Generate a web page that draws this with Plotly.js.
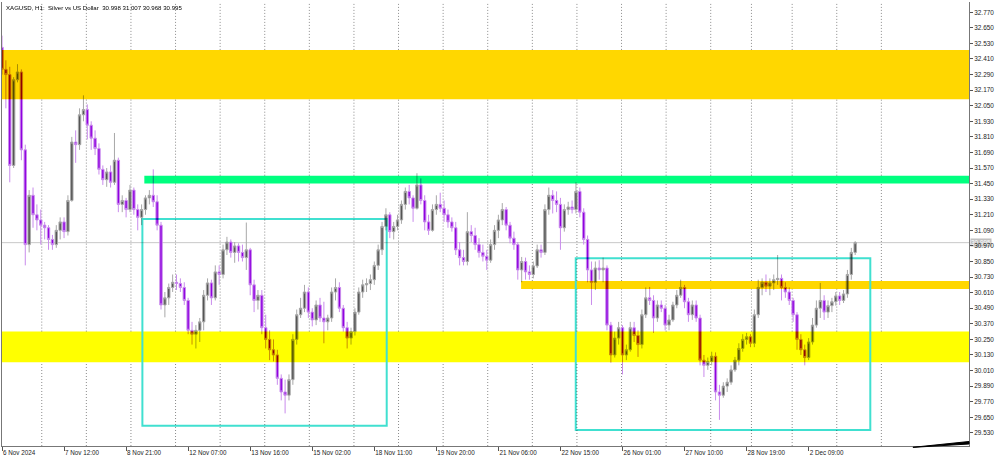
<!DOCTYPE html>
<html>
<head>
<meta charset="utf-8">
<script src="https://cdn.plot.ly/plotly-3.0.1.min.js"></script>
<style>
  html, body { margin: 0; padding: 0; background: #ffffff; }
  #chart { width: 1000px; height: 460px; }
  #chart .svg-container > svg.main-svg:nth-of-type(2) { mix-blend-mode: multiply; }
</style>
</head>
<body>
<div id="chart"></div>
<script>
// ---- XAGUSD H1 candles (each candle = 2 hourly bars) ----
const open = [32.50,32.33,32.29,31.59,32.25,32.31,31.71,30.98,31.36,31.21,
31.17,31.13,31.11,31.02,30.98,31.09,31.155,31.08,31.32,31.77,
31.75,31.98,32.02,31.90,31.80,31.72,31.56,31.48,31.54,31.46,
31.63,31.29,31.32,31.25,31.40,31.25,31.19,31.25,31.34,31.36,
31.31,31.13,30.515,30.57,30.65,30.69,30.68,30.65,30.55,30.32,
30.29,30.32,30.385,30.59,30.685,30.57,30.77,30.75,30.94,31.00,
30.92,30.97,30.92,30.88,30.94,30.67,30.55,30.59,30.34,30.25,
30.17,30.13,29.95,29.845,29.82,29.94,30.25,30.44,30.49,30.615,
30.46,30.40,30.515,30.415,30.385,30.415,30.615,30.65,30.49,30.34,
30.26,30.31,30.46,30.615,30.67,30.68,30.71,30.82,30.94,31.12,
31.21,31.08,31.12,31.17,31.29,31.39,31.34,31.26,31.44,31.32,
31.155,31.09,31.25,31.29,31.26,31.21,31.155,31.11,30.94,30.88,
30.85,31.08,31.05,30.98,30.92,30.89,30.86,30.98,31.09,31.17,
31.25,31.13,31.03,30.98,30.785,30.85,30.77,30.75,30.816,30.94,
30.92,31.25,31.36,31.32,31.29,31.11,31.25,31.27,31.25,31.39,
31.23,31.02,30.785,30.69,30.80,30.785,30.80,30.36,30.13,30.26,
30.34,30.13,30.17,30.34,30.28,30.21,30.44,30.57,30.55,30.415,
30.515,30.49,30.36,30.40,30.515,30.59,30.65,30.54,30.44,30.515,
30.415,30.09,30.05,30.08,30.12,29.845,29.82,29.89,29.92,30.015,
30.09,30.18,30.25,30.27,30.22,30.44,30.65,30.69,30.66,30.685,
30.71,30.72,30.65,30.615,30.55,30.44,30.25,30.17,30.11,30.23,
30.36,30.49,30.55,30.46,30.51,30.54,30.585,30.55,30.60,30.75,
30.92];
const high = [32.59,32.40,32.35,32.27,32.37,32.33,31.75,31.40,31.42,31.29,
31.25,31.155,31.13,31.055,31.13,31.19,31.19,31.36,31.81,31.86,
32.03,32.13,32.06,31.93,31.86,31.76,31.59,31.57,31.59,31.84,
31.65,31.36,31.34,31.44,31.42,31.29,31.29,31.36,31.40,31.56,
31.36,31.155,30.615,30.68,30.75,30.75,30.72,30.69,30.57,30.385,
30.36,30.415,30.63,30.72,30.71,30.82,30.82,30.98,31.04,31.02,
31.00,30.99,30.98,31.15,30.955,30.71,30.63,30.63,30.44,30.32,
30.25,30.17,29.98,29.94,29.98,30.29,30.48,30.57,30.67,30.65,
30.49,30.55,30.57,30.54,30.44,30.65,30.72,30.69,30.515,30.385,
30.34,30.49,30.65,30.71,30.72,30.75,30.85,30.98,31.155,31.26,
31.23,31.155,31.21,31.32,31.42,31.44,31.36,31.53,31.49,31.36,
31.21,31.29,31.36,31.38,31.32,31.25,31.19,31.155,31.00,30.94,
31.23,31.13,31.11,31.03,30.98,30.94,31.02,31.13,31.21,31.30,
31.27,31.155,31.08,31.00,30.885,30.88,30.82,30.85,30.98,30.98,
31.29,31.42,31.40,31.39,31.34,31.29,31.31,31.32,31.46,31.42,
31.26,31.05,30.85,30.85,30.86,30.88,30.82,30.385,30.31,30.385,
30.36,30.21,30.385,30.385,30.32,30.48,30.65,30.654,30.59,30.55,
30.55,30.515,30.44,30.54,30.63,30.71,30.67,30.57,30.55,30.55,
30.44,30.13,30.11,30.155,30.15,29.90,29.92,29.95,30.05,30.115,
30.22,30.29,30.30,30.29,30.48,30.71,30.72,30.75,30.72,30.75,
30.90,30.75,30.69,30.65,30.57,30.46,30.29,30.21,30.26,30.415,
30.55,30.685,30.59,30.55,30.57,30.615,30.615,30.63,30.785,30.955,
31.007];
const low = [32.29,32.03,31.46,31.57,32.23,31.63,30.82,30.92,31.11,31.09,
30.98,31.02,30.94,30.94,30.955,31.02,31.03,31.05,31.31,31.61,
31.71,31.93,31.79,31.71,31.67,31.52,31.44,31.425,31.42,31.44,
31.23,31.23,31.19,31.23,31.21,31.09,31.13,31.21,31.29,31.27,
31.09,30.48,30.42,30.515,30.615,30.63,30.615,30.515,30.29,30.21,
30.18,30.23,30.32,30.55,30.515,30.55,30.67,30.72,30.90,30.88,
30.84,30.85,30.85,30.785,30.59,30.46,30.48,30.29,30.18,30.09,
30.08,29.90,29.78,29.68,29.78,29.90,30.21,30.415,30.46,30.415,
30.35,30.36,30.385,30.22,30.32,30.385,30.55,30.46,30.31,30.18,
30.21,30.28,30.44,30.57,30.615,30.63,30.67,30.785,30.90,31.09,
31.03,31.02,31.09,31.14,31.25,31.29,31.155,31.25,31.29,31.09,
31.055,31.08,31.21,31.23,31.155,31.11,31.08,30.90,30.82,30.82,
30.82,31.00,30.94,30.88,30.85,30.785,30.84,30.94,31.03,31.13,
31.09,30.99,30.94,30.71,30.69,30.71,30.71,30.72,30.80,30.88,
30.90,31.21,31.22,31.23,30.94,31.08,31.21,31.22,31.22,31.19,
30.98,30.69,30.515,30.63,30.71,30.69,30.32,30.07,30.11,30.21,
29.98,30.09,30.155,30.23,30.115,30.18,30.415,30.515,30.30,30.385,
30.46,30.32,30.32,30.385,30.49,30.57,30.49,30.385,30.40,30.385,
30.05,29.96,30.015,30.05,29.78,29.63,29.80,29.845,29.90,30.00,
30.05,30.155,30.21,30.19,30.19,30.415,30.59,30.615,30.59,30.63,
30.67,30.55,30.57,30.515,30.385,30.17,30.13,30.05,30.09,30.21,
30.34,30.415,30.40,30.415,30.46,30.51,30.515,30.53,30.57,30.71,
30.90];
const close = [32.33,32.29,31.59,32.25,32.31,31.71,30.98,31.36,31.21,31.17,
31.13,31.11,31.02,30.98,31.09,31.155,31.08,31.32,31.77,31.75,
31.98,32.02,31.90,31.80,31.72,31.56,31.48,31.54,31.46,31.63,
31.29,31.32,31.25,31.40,31.25,31.19,31.25,31.34,31.36,31.31,
31.13,30.515,30.57,30.65,30.69,30.68,30.65,30.55,30.32,30.29,
30.32,30.385,30.59,30.685,30.57,30.77,30.75,30.94,31.00,30.92,
30.97,30.92,30.88,30.94,30.67,30.55,30.59,30.34,30.25,30.17,
30.13,29.95,29.845,29.82,29.94,30.25,30.44,30.49,30.615,30.46,
30.40,30.515,30.415,30.385,30.415,30.615,30.65,30.49,30.34,30.26,
30.31,30.46,30.615,30.67,30.68,30.71,30.82,30.94,31.12,31.21,
31.08,31.12,31.17,31.29,31.39,31.34,31.26,31.44,31.32,31.155,
31.09,31.25,31.29,31.26,31.21,31.155,31.11,30.94,30.88,30.85,
31.08,31.05,30.98,30.92,30.89,30.86,30.98,31.09,31.17,31.25,
31.13,31.03,30.98,30.785,30.85,30.77,30.75,30.816,30.94,30.92,
31.25,31.36,31.32,31.29,31.11,31.25,31.27,31.25,31.39,31.23,
31.02,30.785,30.69,30.80,30.785,30.80,30.36,30.13,30.26,30.34,
30.13,30.17,30.34,30.28,30.21,30.44,30.57,30.55,30.415,30.515,
30.49,30.36,30.40,30.515,30.59,30.65,30.54,30.44,30.515,30.415,
30.09,30.05,30.08,30.12,29.845,29.82,29.89,29.92,30.015,30.09,
30.18,30.25,30.27,30.22,30.44,30.65,30.69,30.66,30.685,30.71,
30.72,30.65,30.615,30.55,30.44,30.25,30.17,30.11,30.23,30.36,
30.49,30.55,30.46,30.51,30.54,30.585,30.55,30.60,30.75,30.92,
30.995];

// x-axis labels (bar index of each label) and day separators
const tickBars = [0,32,64,96,128,160,192,224,256,288,320,352,384,416];
const tickLabels = ['6 Nov 2024','7 Nov 12:00','8 Nov 21:00','12 Nov 07:00','13 Nov 16:00',
  '15 Nov 02:00','18 Nov 11:00','19 Nov 20:00','21 Nov 06:00','22 Nov 15:00',
  '26 Nov 01:00','27 Nov 10:00','28 Nov 19:00','2 Dec 09:00'];
const daySeps = [20.5,43.5,66.5,89.5,112.5,135.5,158.5,181.5,204.5,227.5,
  250.5,273.5,296.5,319.5,342.5,365.5,386.5,407.5,430.5,453.5];

// price axis labels
const priceTicks = [29.53,29.65,29.77,29.89,30.01,30.13,30.25,30.37,30.49,30.61,30.73,30.85,30.97,
  31.09,31.21,31.33,31.45,31.57,31.69,31.81,31.93,32.05,32.17,32.29,32.41,32.53,32.65,32.77];
const priceLabels = priceTicks.map(v => v.toFixed(3));

// zones drawn on chart: [lowPrice, highPrice]
const goldTop = [32.10, 32.48];
const greenZone = [31.45, 31.511];
const goldMid = [30.639, 30.70];
const yellowZone = [30.074, 30.310];
const box1 = {x0: 72.4, x1: 198.4, y0: 29.585, y1: 31.178};
const box2 = {x0: 295.9, x1: 447.8, y0: 29.552, y1: 30.875};
const greenStart = 73.4, goldMidStart = 267.7;
const bid = 30.995;
const quote = {o: 30.998, h: 31.007, l: 30.968, c: 30.995};

const xRange = [0, 498.7];
const yRange = [29.4287, 32.849];

const bars = close.map((_, i) => 2 * i);

const trace = {
  type: 'candlestick',
  x: bars, open: open, high: high, low: low, close: close,
  increasing: {line: {color: '#a8a8a8', width: 1}, fillcolor: '#555555'},
  decreasing: {line: {color: '#c98cec', width: 1}, fillcolor: '#9000e0'},
  whiskerwidth: 0,
  hoverinfo: 'skip',
  showlegend: false
};

const shapes = [];
// bands (drawn in the top layer, multiply-blended over the candles)
shapes.push({type: 'rect', layer: 'above', xref: 'paper', x0: 0, x1: 1, yref: 'y', y0: goldTop[0], y1: goldTop[1], fillcolor: '#ffd700', line: {width: 0}});
shapes.push({type: 'rect', layer: 'above', xref: 'x', x0: greenStart, x1: xRange[1], yref: 'y', y0: greenZone[0], y1: greenZone[1], fillcolor: '#00ff7f', line: {width: 0}});
shapes.push({type: 'rect', layer: 'above', xref: 'x', x0: goldMidStart, x1: xRange[1], yref: 'y', y0: goldMid[0], y1: goldMid[1], fillcolor: '#ffd700', line: {width: 0}});
shapes.push({type: 'rect', layer: 'above', xref: 'paper', x0: 0, x1: 1, yref: 'y', y0: yellowZone[0], y1: yellowZone[1], fillcolor: '#ffff00', line: {width: 0}});
// cyan boxes
[box1, box2].forEach(b => shapes.push({type: 'rect', layer: 'above', xref: 'x', yref: 'y',
  x0: b.x0, x1: b.x1, y0: b.y0, y1: b.y1, fillcolor: 'rgba(0,0,0,0)', line: {color: '#40e0d0', width: 2}}));
// day separators (hidden where the opaque bands cover them)
const bandCuts = [
  {lo: yellowZone[0], hi: yellowZone[1], from: 0},
  {lo: goldMid[0], hi: goldMid[1], from: goldMidStart},
  {lo: greenZone[0], hi: greenZone[1], from: greenStart},
  {lo: goldTop[0], hi: goldTop[1], from: 0}
];
daySeps.forEach(d => {
  const cuts = bandCuts.filter(c => d >= c.from).sort((a, b) => a.lo - b.lo);
  let y = yRange[0];
  cuts.forEach(c => {
    shapes.push({type: 'line', layer: 'below', xref: 'x', yref: 'y', x0: d, x1: d, y0: y, y1: c.lo,
      line: {color: '#8c8c8c', width: 1, dash: '1px,2px'}});
    y = c.hi;
  });
  shapes.push({type: 'line', layer: 'below', xref: 'x', yref: 'y', x0: d, x1: d, y0: y, y1: yRange[1],
    line: {color: '#8c8c8c', width: 1, dash: '1px,2px'}});
});
// bid line
shapes.push({type: 'line', layer: 'below', xref: 'paper', x0: 0, x1: 1, yref: 'y', y0: bid, y1: bid,
  line: {color: '#c8c8c8', width: 1}});
// black wedge bottom right
shapes.push({type: 'path', layer: 'above', xref: 'paper', yref: 'paper',
  path: 'M 0.942,-0.003 L 1,0.0101 L 1,0.0045 Z', fillcolor: '#000000', line: {color: '#000000', width: 1}});

const sp = '\u00a0';
const annotations = [
  {xref: 'paper', yref: 'paper', x: 0, y: 1, xanchor: 'left', yanchor: 'top', xshift: 2, yshift: 0,
   showarrow: false, align: 'left',
   text: 'XAGUSD,' + sp + 'H1:' + sp + sp + 'Silver vs US Dollar' + sp + sp +
     quote.o.toFixed(3) + ' ' + quote.h.toFixed(3) + ' ' + quote.l.toFixed(3) + ' ' + quote.c.toFixed(3),
   font: {size: 6.1, color: '#000000'}},
  {xref: 'paper', yref: 'y', x: 1, y: bid, xanchor: 'left', yanchor: 'middle', xshift: 1,
   showarrow: false, text: bid.toFixed(3), bgcolor: '#c0c0c0', borderpad: 0,
   font: {size: 6.4, color: '#ffffff'}}
];

const layout = {
  width: 1000, height: 460,
  margin: {l: 2, r: 31, t: 2, b: 14, pad: 0},
  paper_bgcolor: '#ffffff', plot_bgcolor: '#ffffff',
  font: {family: 'Liberation Sans, Arial, sans-serif', size: 6.4, color: '#222222'},
  boxgap: 0.12,
  xaxis: {
    range: xRange, rangeslider: {visible: false},
    showgrid: false, zeroline: false,
    tickmode: 'array', tickvals: tickBars, ticktext: tickLabels,
    ticks: 'outside', ticklen: 4, tickcolor: '#555555', tickwidth: 1,
    ticklabelposition: 'outside right',
    showline: true, linecolor: '#777777', linewidth: 1, mirror: false,
    tickfont: {size: 6.3, color: '#222222'}, fixedrange: true
  },
  yaxis: {
    range: yRange, side: 'right',
    showgrid: false, zeroline: false,
    tickmode: 'array', tickvals: priceTicks, ticktext: priceLabels,
    ticks: 'outside', ticklen: 3, tickcolor: '#555555', tickwidth: 1,
    showline: true, linecolor: '#777777', linewidth: 1, mirror: true,
    tickfont: {size: 6.4, color: '#222222'}, fixedrange: true
  },
  shapes: shapes,
  annotations: annotations,
  showlegend: false
};

Plotly.newPlot('chart', [trace], layout, {displayModeBar: false, staticPlot: true});
</script>
</body>
</html>
